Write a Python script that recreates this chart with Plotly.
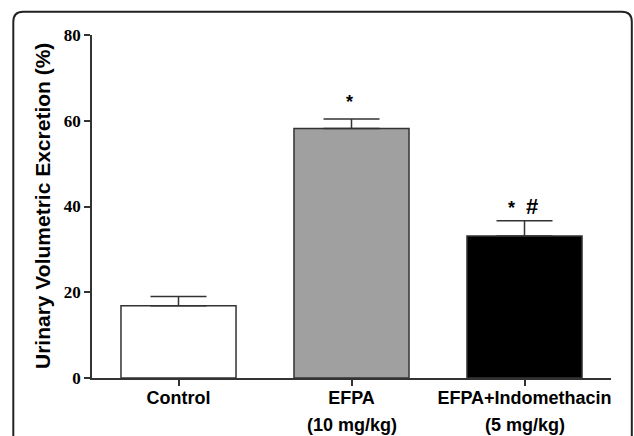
import plotly.graph_objects as go

categories = ["Control", "EFPA", "EFPA+Indomethacin"]
dose_labels = ["", "(10 mg/kg)", "(5 mg/kg)"]
means = [16.85, 58.2, 33.1]
sem = [2.15, 2.2, 3.6]
bar_colors = ["#ffffff", "#a0a0a0", "#000000"]
y_ticks = [0, 20, 40, 60, 80]
sig_marks = [("*", 0.988, 64.4, 18), ("*", 1.925, 39.6, 18), ("#", 2.044, 40.0, 22)]

W, H = 634, 436
ML, MR, MT, MB = 92, 23, 35, 58
PW, PH = W - ML - MR, H - MT - MB

def px_x(p):
    return (p - ML) / PW

def px_y(p):
    return (H - MB - p) / PH

fig = go.Figure()
fig.add_trace(go.Bar(
    x=list(range(len(categories))), y=means, width=0.665,
    marker=dict(color=bar_colors, line=dict(color="#333333", width=1.5)),
    error_y=dict(type="data", symmetric=False, array=sem, arrayminus=[0] * len(sem),
                 color="#333333", thickness=1.5, width=28),
    showlegend=False, hoverinfo="skip",
))

fig.update_xaxes(
    range=[-0.5, 2.5], tickmode="array", tickvals=list(range(len(categories))),
    ticktext=categories, showline=True, linecolor="#333333", linewidth=1.5,
    ticks="outside", ticklen=6, tickwidth=1.5, tickcolor="#333333",
    showgrid=False, zeroline=False, ticklabelstandoff=-3,
    tickfont=dict(family="Liberation Sans", size=18, color="#000000", weight="bold"),
)
fig.update_yaxes(
    range=[0, 80], tickmode="array", tickvals=y_ticks, ticktext=[str(v) for v in y_ticks],
    showline=True, linecolor="#333333", linewidth=1.5,
    ticks="outside", ticklen=6, tickwidth=1.5, tickcolor="#333333",
    showgrid=False, zeroline=False,
    tickfont=dict(family="Liberation Serif", size=17, color="#000000", weight="bold"),
)

annotations = []
for i, d in enumerate(dose_labels):
    if d:
        annotations.append(dict(
            x=i, xref="x", y=px_y(425), yref="paper", text=d, showarrow=False,
            xanchor="center", yanchor="middle",
            font=dict(family="Liberation Sans", size=18, color="#000000", weight="bold"),
        ))
for txt, xv, yv, fs in sig_marks:
    annotations.append(dict(
        x=xv, xref="x", y=yv, yref="y", text=txt, showarrow=False,
        xanchor="center", yanchor="middle",
        font=dict(family="Liberation Sans", size=fs, color="#000000", weight="bold"),
    ))
annotations.append(dict(
    x=px_x(42.5), xref="paper", y=0.5, yref="paper",
    text="Urinary Volumetric Excretion (%)", textangle=-90, showarrow=False,
    xanchor="center", yanchor="middle",
    font=dict(family="Liberation Sans", size=21, color="#000000", weight="bold"),
))

# rounded frame
xl, xr = px_x(13.3), px_x(631.8)
yt, yb = px_y(11.7), px_y(445)
rx, ry = 10 / PW, 10 / PH
path = (f"M {xl},{yb} L {xl},{yt - ry} Q {xl},{yt} {xl + rx},{yt} "
        f"L {xr - rx},{yt} Q {xr},{yt} {xr},{yt - ry} L {xr},{yb}")
fig.add_shape(type="path", path=path, xref="paper", yref="paper",
              line=dict(color="#222222", width=2))

fig.update_layout(
    width=W, height=H, margin=dict(l=ML, r=MR, t=MT, b=MB),
    paper_bgcolor="white", plot_bgcolor="white",
    annotations=annotations, bargap=0.3,
)

fig.write_html("out.html", config={"displayModeBar": False},
               post_script="document.body.style.margin='0';document.body.style.overflow='hidden';")
